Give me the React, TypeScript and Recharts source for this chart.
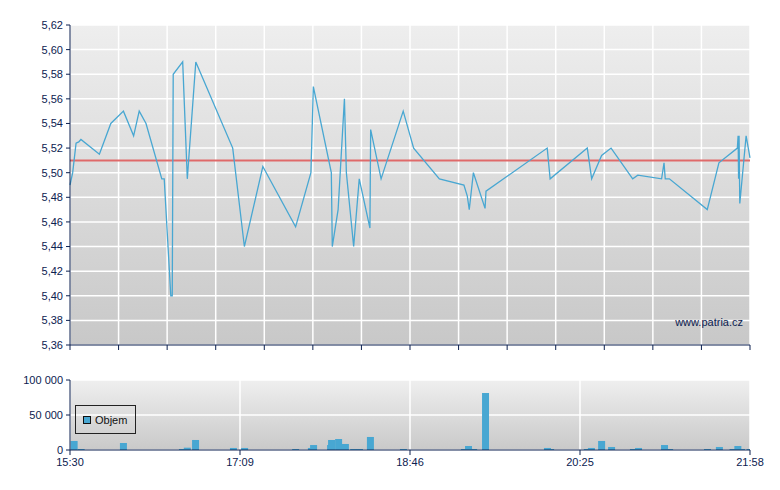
import {
  LineChart, Line, BarChart, Bar, XAxis, YAxis, CartesianGrid,
  ReferenceLine, Legend,
} from 'recharts'

// x runs 0..28 across the session (15:30 -> 21:58), 14 grid cells in the price chart
const priceX = [
  0, 0.11, 0.25, 0.36, 0.45, 1.21, 1.68, 2.2, 2.62, 2.85, 3.13, 3.78, 3.88, 4.15, 4.21,
  4.25, 4.64, 4.83, 5.18, 6.7, 7.18, 7.94, 9.29, 9.92, 10.02, 10.76, 10.8, 11.04, 11.3,
  11.38, 11.68, 11.91, 12.35, 12.38, 12.81, 13.72, 14.15, 15.21, 16.22, 16.36, 16.44,
  16.61, 17.09, 17.13, 19.65, 19.77, 21.3, 21.48, 21.89, 22.28, 23.17, 23.38, 24.36,
  24.46, 24.51, 24.68, 26.24, 26.72, 27.48, 27.51, 27.53, 27.55, 27.58, 27.84, 28,
]
const priceY = [
  5.49, 5.5, 5.524, 5.525, 5.527, 5.515, 5.54, 5.55, 5.53, 5.55, 5.54, 5.495, 5.495, 5.4, 5.4,
  5.58, 5.59, 5.495, 5.59, 5.52, 5.44, 5.505, 5.456, 5.5, 5.57, 5.5, 5.44, 5.47, 5.56,
  5.5, 5.44, 5.495, 5.455, 5.535, 5.495, 5.55, 5.52, 5.495, 5.49, 5.481, 5.47,
  5.5, 5.471, 5.485, 5.52, 5.495, 5.52, 5.495, 5.514, 5.52, 5.495, 5.498, 5.495,
  5.508, 5.495, 5.495, 5.47, 5.508, 5.52, 5.53, 5.495, 5.53, 5.475, 5.53, 5.512,
]
const refPrice = 5.51
const priceTicks = [5.36, 5.38, 5.4, 5.42, 5.44, 5.46, 5.48, 5.5, 5.52, 5.54, 5.56, 5.58, 5.6, 5.62]
const gridTicks = [0, 2, 4, 6, 8, 10, 12, 14, 16, 18, 20, 22, 24, 26, 28]

const volX = [
  0.17, 0.46, 2.2, 4.63, 4.83, 5.17, 6.73, 7.19, 9.29, 9.94, 10.03, 10.73, 10.77, 11.06,
  11.34, 11.68, 11.92, 12.37, 13.73, 16.24, 16.41, 16.62, 17.11, 19.66, 19.79, 21.3,
  21.47, 21.89, 22.3, 23.2, 23.41, 24.48, 24.69, 26.25, 26.74, 27.3, 27.5, 27.65, 28,
]
const volY = [
  12900, 1400, 10000, 1400, 3300, 14300, 2900, 2900, 1400, 2900, 7100, 7100, 14300, 15700,
  8600, 1400, 1400, 18600, 1400, 1400, 5700, 1400, 81400, 2900, 1400, 1400,
  2900, 12900, 4300, 1400, 2900, 7100, 1400, 1400, 4300, 1400, 5700, 1400, 1400,
]
const volTicks = [0, 50000, 100000]
const timeTicks = [0, 7, 14, 21, 28]
const timeLabels = ['15:30', '17:09', '18:46', '20:25', '21:58']

const navy = '#0c2150'
const blue = '#48a7d2'
const font = { fontSize: 11, fill: navy, fontFamily: 'Liberation Sans, Arial, sans-serif' }

const priceData = priceX.map((x, i) => ({ x, p: priceY[i] }))
const volData = volX.map((x, i) => ({ x, v: volY[i] }))

function fmtPrice(v: number) {
  return v.toFixed(2).replace('.', ',')
}

function fmtVol(v: number) {
  return v.toString().replace(/\B(?=(\d{3})+(?!\d))/g, ' ')
}

// fixed 7px bars centred on the scaled x, whatever band size recharts picks
function VolBar(props: any) {
  const { x, y, width, height } = props
  if (!height || height <= 0) return null
  return <rect x={x + width / 2 - 3.5} y={y} width={7} height={height} fill={blue} />
}

function ObjemLegend() {
  return (
    <div style={{
      boxSizing: 'border-box', width: 61, height: 29, border: '1px solid #222',
      display: 'flex', alignItems: 'center', paddingLeft: 7,
      fontFamily: 'Liberation Sans, Arial, sans-serif', fontSize: 11, color: '#111',
    }}>
      <span style={{ display: 'inline-block', width: 6, height: 6, background: blue, border: '1px solid #111', marginRight: 4 }} />
      Objem
    </div>
  )
}

export default function App() {
  return (
    <div style={{ position: 'absolute', left: 0, top: 0, width: 780, height: 490, background: '#fff' }}>
      <LineChart width={780} height={360} data={priceData} margin={{ top: 25, right: 30, bottom: 0, left: 0 }}>
        <defs>
          <linearGradient id="bgTop" x1="0" y1="0" x2="0" y2="1">
            <stop offset="0%" stopColor="#eeeeee" />
            <stop offset="100%" stopColor="#c8c8c8" />
          </linearGradient>
        </defs>
        <CartesianGrid stroke="#ffffff" strokeWidth={1.5} fill="url(#bgTop)" fillOpacity={1} />
        <XAxis
          dataKey="x" type="number" domain={[0, 28]} ticks={gridTicks} height={15}
          tickFormatter={() => ''} tickSize={5} stroke={navy} axisLine={{ stroke: navy }}
          tickLine={{ stroke: navy }}
        />
        <YAxis
          type="number" domain={[5.36, 5.62]} ticks={priceTicks} width={70}
          tickFormatter={fmtPrice} tick={font} tickSize={4} tickMargin={3}
          axisLine={{ stroke: navy }} tickLine={{ stroke: navy }}
        />
        <ReferenceLine y={refPrice} stroke="#df6a6a" strokeWidth={2} />
        <Line type="linear" dataKey="p" stroke={blue} strokeWidth={1.3} dot={false} isAnimationActive={false} />
      </LineChart>
      <div style={{
        position: 'absolute', right: 37, top: 316, fontSize: 11, color: navy,
        fontFamily: 'Liberation Sans, Arial, sans-serif',
      }}>www.patria.cz</div>
      <BarChart width={780} height={130} data={volData} margin={{ top: 20, right: 30, bottom: 0, left: 0 }}>
        <defs>
          <linearGradient id="bgBot" x1="0" y1="0" x2="0" y2="1">
            <stop offset="0%" stopColor="#efefef" />
            <stop offset="100%" stopColor="#c9c9c9" />
          </linearGradient>
        </defs>
        <CartesianGrid stroke="#ffffff" strokeWidth={1.5} fill="url(#bgBot)" fillOpacity={1} />
        <XAxis
          dataKey="x" type="number" domain={[0, 28]} ticks={timeTicks} height={40}
          allowDataOverflow
          tickFormatter={(v: number) => timeLabels[timeTicks.indexOf(v)] ?? ''}
          tick={font} tickSize={5} tickMargin={3}
          axisLine={{ stroke: navy }} tickLine={{ stroke: navy }}
        />
        <YAxis
          type="number" domain={[0, 100000]} ticks={volTicks} width={70}
          tickFormatter={fmtVol} tick={font} tickSize={4} tickMargin={3}
          axisLine={{ stroke: navy }} tickLine={{ stroke: navy }}
        />
        <Legend
          layout="horizontal" verticalAlign="middle" align="center"
          wrapperStyle={{ left: 75, top: 45, width: 61, height: 29 }}
          content={() => <ObjemLegend />}
        />
        <Bar dataKey="v" name="Objem" fill={blue} shape={VolBar} isAnimationActive={false} />
      </BarChart>
    </div>
  )
}
